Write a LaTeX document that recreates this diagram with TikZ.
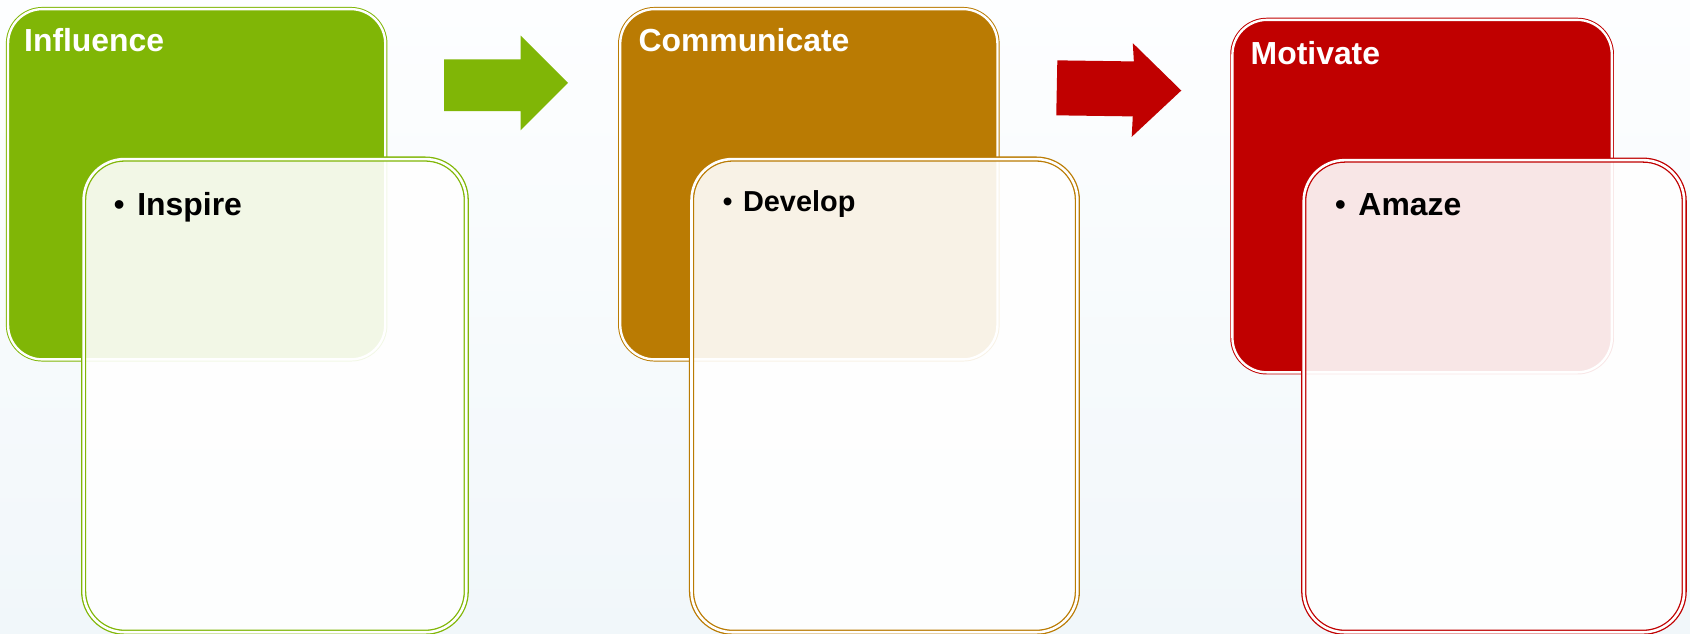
\documentclass[tikz,border=0pt]{standalone}
\usepackage{fontspec}
\setmainfont{Liberation Sans}
\definecolor{cgreen}{RGB}{128,182,6}
\definecolor{cbrown}{RGB}{186,123,3}
\definecolor{cred}{RGB}{192,0,0}
\definecolor{bgtop}{RGB}{253,254,255}
\definecolor{bgbot}{RGB}{241,247,250}
\begin{document}
\begin{tikzpicture}[x=0.5pt,y=-0.5pt,
  headbox/.style={draw=#1, fill=#1, double=white, line width=0.45pt, double distance=1.1pt,
    rounded corners=16pt, anchor=north west, inner sep=0pt},
  bodybox/.style={draw=#1, double=white, line width=0.6pt, double distance=1.2pt,
    fill=white, fill opacity=0.9, rounded corners=19pt, anchor=north west, inner sep=0pt},
  title/.style={anchor=base west, text=white, font=\bfseries\fontsize{14.8}{18}\selectfont, inner sep=0pt},
  item/.style={anchor=base west, text=black, font=\bfseries\fontsize{14.8}{18}\selectfont, inner sep=0pt},
  dot/.style={anchor=base west, text=black, font=\fontsize{14.8}{18}\selectfont, inner sep=0pt}]
\useasboundingbox (0,0) rectangle (1568,588);
\fill[top color=bgtop, bottom color=bgbot] (0,0) rectangle (1568,588);

% green group
\node[headbox=cgreen, minimum width=175pt, minimum height=162.5pt] (g1) at (7,8) {};
\node[bodybox=cgreen, minimum width=177.5pt, minimum height=219.5pt] (g2) at (77,147) {};
\node[title] (t1) at (22,48) {Influence};
\node[dot] (b1) at (105,200) {•};
\node[item] (i1) at (127,200) {Inspire};

% brown group
\node[headbox=cbrown, minimum width=175pt, minimum height=162.5pt] (h2) at (575,8) {};
\node[bodybox=cbrown, minimum width=179pt, minimum height=219.5pt] (h3) at (641,147) {};
\node[title] (t2) at (592,48) {Communicate};
\node[dot, font=\fontsize{13.4}{16}\selectfont] (b2) at (670,196) {•};
\node[item, font=\bfseries\fontsize{13.4}{16}\selectfont] (i2) at (689,196) {Develop};

% red group
\node[headbox=cred, minimum width=176pt, minimum height=163.5pt] (r1) at (1143,18) {};
\node[bodybox=cred, minimum width=176.5pt, minimum height=219pt] (r2) at (1209,148) {};
\node[title] (t3) at (1160,60) {Motivate};
\node[dot] (b3) at (1238,200) {•};
\node[item] (i3) at (1260,200) {Amaze};

% block arrows
\fill[cgreen] (412,55) -- (483,55) -- (483,33) -- (527,77) -- (483,121) -- (483,103) -- (412,103) -- cycle;
\fill[cred] (981,56) -- (1052,57) -- (1051,40) -- (1096,84) -- (1050,127) -- (1051,108) -- (980,107) -- cycle;
\end{tikzpicture}
\end{document}
